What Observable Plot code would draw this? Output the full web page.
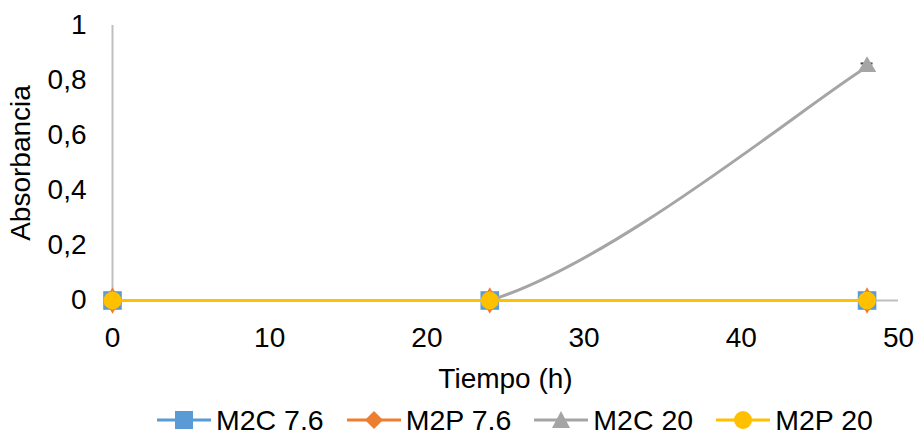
<!DOCTYPE html>
<html>
<head>
<meta charset="utf-8">
<script src="https://cdn.jsdelivr.net/npm/d3@7"></script>
<script src="https://cdn.jsdelivr.net/npm/@observablehq/plot@0.6"></script>
<style>
  html, body { margin: 0; background: #fff; font-family: "Liberation Sans", Arial, sans-serif; overflow: hidden; }
  #legend { position: relative; height: 36px; font-size: 28.5px; color: #000; }
  #legend .row { position: absolute; left: 157px; top: 4px; display: flex; align-items: center; gap: 23px; height: 36px; }
  .item { display: flex; align-items: center; gap: 5px; }
</style>
</head>
<body>
<div id="chart"></div>
<div id="legend"><div class="row"></div></div>
<script>
const tiempo = [0, 24, 48];
const seriesNames = ["M2C 7.6", "M2P 7.6", "M2C 20", "M2P 20"];
const m2c76 = [0, 0, 0];
const m2p76 = [0, 0, 0];
const m2c20 = [0, 0, 0.85];
const m2p20 = [0, 0, 0];
const m2c20Err = [0, 0, 0.012];
const colors = ["#5B9BD5", "#ED7D31", "#A5A5A5", "#FFC000"];
const symbols = ["square", "diamond", "triangle", "circle"];
const xTicks = [0, 10, 20, 30, 40, 50];
const yTicks = [0, 0.2, 0.4, 0.6, 0.8, 1];

const values = [m2c76, m2p76, m2c20, m2p20];
const data = [];
seriesNames.forEach((s, i) => tiempo.forEach((t, j) => data.push({serie: s, t, v: values[i][j], err: i === 2 ? m2c20Err[j] : 0})));

const fmt = d => String(d).replace(".", ",");
const errData = data.filter(d => d.err > 0);
const radius = {square: 10.5, diamond: 8, triangle: 6.8, circle: 9};

// Spreadsheet-style smoothed line (Bezier with 1/6 tension, control points kept inside each segment's range)
function smoothCurve(context) {
  let pts = [];
  return {
    areaStart() {}, areaEnd() {},
    lineStart() { pts = []; },
    point(x, y) { pts.push([+x, +y]); },
    lineEnd() {
      const n = pts.length;
      if (!n) return;
      context.moveTo(pts[0][0], pts[0][1]);
      for (let i = 0; i < n - 1; i++) {
        const p0 = pts[Math.max(i - 1, 0)], p1 = pts[i], p2 = pts[i + 1], p3 = pts[Math.min(i + 2, n - 1)];
        const lo = Math.min(p1[1], p2[1]), hi = Math.max(p1[1], p2[1]);
        const cl = v => Math.max(lo, Math.min(hi, v));
        context.bezierCurveTo(
          p1[0] + (p2[0] - p0[0]) / 6, cl(p1[1] + (p2[1] - p0[1]) / 6),
          p2[0] - (p3[0] - p1[0]) / 6, cl(p2[1] - (p3[1] - p1[1]) / 6),
          p2[0], p2[1]
        );
      }
    }
  };
}

const marks = [
  Plot.ruleX([0], {y1: 0, y2: 1, stroke: "#BFBFBF", strokeWidth: 2}),
  Plot.ruleY([0], {x1: 0, x2: 50, stroke: "#BFBFBF", strokeWidth: 2}),
  Plot.axisX({ticks: xTicks, tickSize: 0, tickPadding: 27, fontSize: 28, label: "Tiempo (h)", labelAnchor: "center", labelArrow: "none", labelOffset: 87}),
  Plot.axisY({ticks: yTicks, tickSize: 0, tickPadding: 26, fontSize: 28, tickFormat: fmt, label: "Absorbancia", labelAnchor: "center", labelArrow: "none", labelOffset: 102})
];
seriesNames.forEach((s, i) => {
  const sub = data.filter(d => d.serie === s);
  marks.push(Plot.line(sub, {x: "t", y: "v", stroke: colors[i], strokeWidth: 3, curve: smoothCurve}));
  if (i === 2) {
    marks.push(Plot.ruleX(errData, {x: "t", y1: d => d.v - d.err, y2: d => d.v + d.err, stroke: "#404040", strokeWidth: 1}));
    marks.push(Plot.ruleY(errData, {y: d => d.v + d.err, x1: d => d.t - 0.38, x2: d => d.t + 0.38, stroke: "#404040", strokeWidth: 2}));
  }
  marks.push(Plot.dot(sub, {x: "t", y: "v", fill: colors[i], stroke: "none", symbol: () => symbols[i], r: radius[symbols[i]]}));
});

const chart = Plot.plot({
  width: 919,
  height: 398,
  marginLeft: 112,
  marginRight: 21,
  marginTop: 25,
  marginBottom: 98,
  style: {fontFamily: "Liberation Sans, Arial, sans-serif", fontSize: "28px", color: "#000", background: "#fff"},
  x: {type: "linear", domain: [0, 50]},
  y: {type: "linear", domain: [0, 1]},
  marks
});
document.getElementById("chart").appendChild(chart);

const row = document.querySelector("#legend .row");
seriesNames.forEach((s, i) => {
  const item = document.createElement("div");
  item.className = "item";
  const sw = d3.create("svg").attr("width", 54).attr("height", 26);
  sw.append("line").attr("x1", 0).attr("x2", 54).attr("y1", 13).attr("y2", 13).attr("stroke", colors[i]).attr("stroke-width", 3);
  let p;
  if (symbols[i] === "square") p = sw.append("rect").attr("x", 18).attr("y", 4).attr("width", 18).attr("height", 18);
  else if (symbols[i] === "diamond") p = sw.append("path").attr("d", "M27,4L36,13L27,22L18,13Z");
  else if (symbols[i] === "triangle") p = sw.append("path").attr("d", "M27,4L36,21L18,21Z");
  else p = sw.append("circle").attr("cx", 27).attr("cy", 13).attr("r", 9);
  p.attr("fill", colors[i]);
  item.appendChild(sw.node());
  const label = document.createElement("span");
  label.textContent = s;
  item.appendChild(label);
  row.appendChild(item);
});
</script>
</body>
</html>
